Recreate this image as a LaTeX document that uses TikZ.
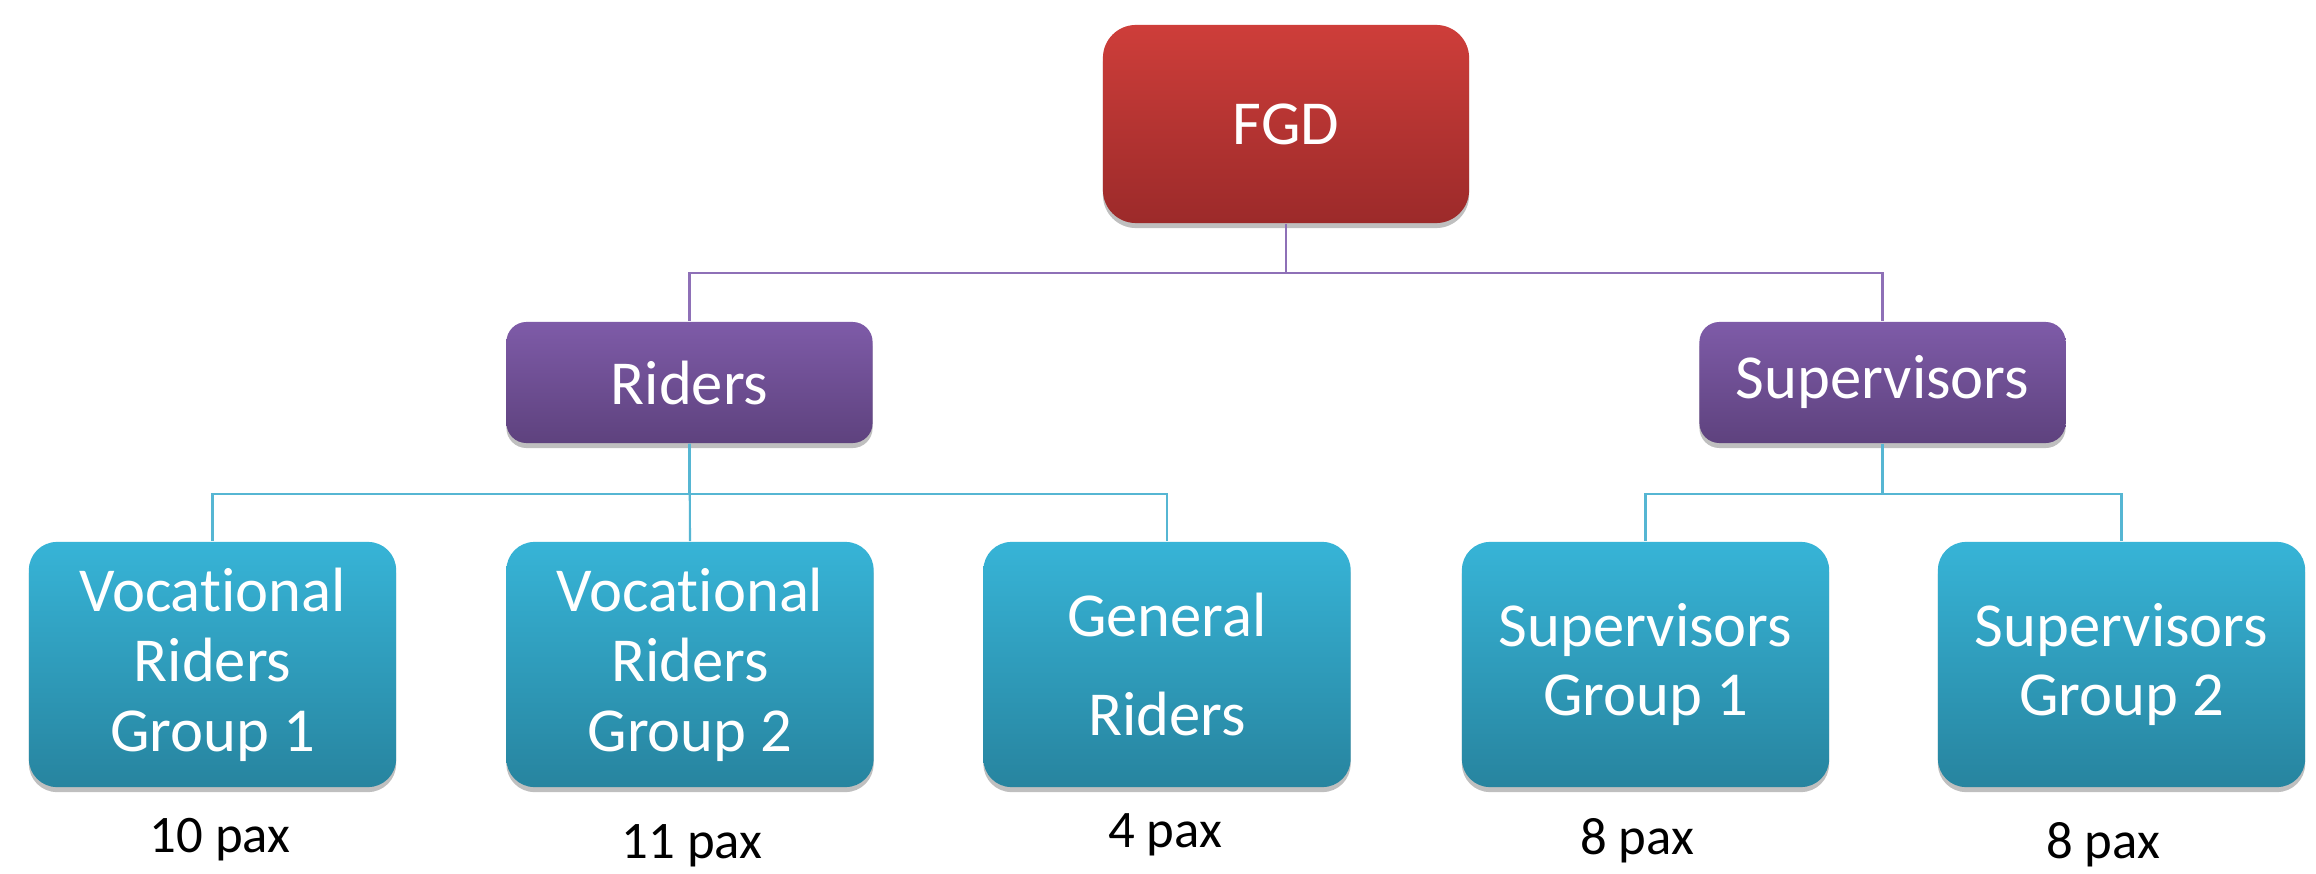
\documentclass[tikz,border=0pt]{standalone}
\usepackage{fontspec}
\setmainfont{Carlito}[Ligatures={NoCommon}]
\usetikzlibrary{shadows}
\definecolor{redtop}{HTML}{CE3E3A}
\definecolor{redbot}{HTML}{9C2A2A}
\definecolor{purtop}{HTML}{7E5BA8}
\definecolor{purbot}{HTML}{5E427E}
\definecolor{blutop}{HTML}{37B4D7}
\definecolor{blubot}{HTML}{27849F}
\definecolor{purline}{HTML}{8E70B7}
\definecolor{bluline}{HTML}{56B6D3}
\begin{document}
\begin{tikzpicture}[x=0.01cm,y=-0.01cm,
  box/.style={rectangle, rounded corners=#1, inner sep=0pt, text=white, align=center,
    font=\fontsize{17.8}{19.9}\selectfont,
    drop shadow={shadow xshift=0pt, shadow yshift=-0.05cm, opacity=0.25, fill=black}},
  box/.default=0.3cm,
  redbox/.style={box=0.33cm, top color=redtop, bottom color=redbot, minimum width=3.66cm, minimum height=1.98cm},
  purbox/.style={box=0.2cm, top color=purtop, bottom color=purbot, minimum width=3.66cm, minimum height=1.21cm},
  blubox/.style={box=0.28cm, top color=blutop, bottom color=blubot, minimum width=3.67cm, minimum height=2.45cm},
  pline/.style={draw=purline, line width=0.6pt},
  bline/.style={draw=bluline, line width=0.6pt},
  lab/.style={anchor=base, inner sep=0pt, text=black, font=\fontsize{15}{18}\selectfont}]
\useasboundingbox (0,0) rectangle (2316,873);
\fill[white] (0,0) rectangle (2316,873);

\node[redbox] (fgd) at (1286,124) {FGD};
\node[purbox] (riders) at (689.5,382.5) {Riders};
\node[purbox] (sup) at (1882.5,382.5) {Supervisors};

\node[blubox] (vr1) at (212.5,664.5) {Vocational\\Riders\\Group 1};
\node[blubox] (vr2) at (690,664.5) {Vocational\\Riders\\Group 2};
\node[blubox] (gr) at (1167,664.5) {General\\[0.29cm]Riders};
\node[blubox] (sg1) at (1645.5,664.5) {Supervisors\\Group 1};
\node[blubox] (sg2) at (2121.5,664.5) {Supervisors\\Group 2};

\draw[pline] (fgd.south) -- ++(0,49) -| (riders.north);
\draw[pline] (fgd.south) -- ++(0,49) -| (sup.north);

\draw[bline] (riders.south) -- (vr2.north);
\draw[bline] (riders.south) -- ++(0,50) -| (vr1.north);
\draw[bline] (riders.south) -- ++(0,50) -| (gr.north);
\draw[bline] (sup.south) -- ++(0,50) -| (sg1.north);
\draw[bline] (sup.south) -- ++(0,50) -| (sg2.north);

\node[lab] (l1) at (220,852) {10 pax};
\node[lab] (l2) at (692,858) {11 pax};
\node[lab] (l3) at (1165,847) {4 pax};
\node[lab] (l4) at (1637,854) {8 pax};
\node[lab] (l5) at (2103,858) {8 pax};
\end{tikzpicture}
\end{document}
